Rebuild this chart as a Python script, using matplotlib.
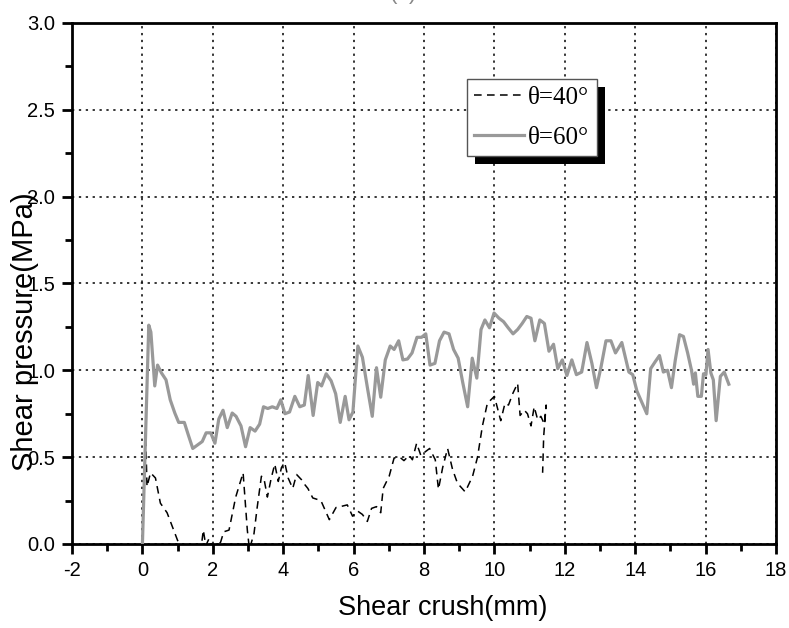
import numpy as np
import matplotlib
matplotlib.use("Agg")
import matplotlib.pyplot as plt
from matplotlib.ticker import MultipleLocator, FormatStrFormatter
from matplotlib.patches import Rectangle

plt.rcParams['font.family'] = ['Liberation Sans', 'DejaVu Sans']
plt.rcParams['axes.unicode_minus'] = False

# theta = 60 deg (grey solid)
x60 = [0.0, 0.18, 0.24, 0.35, 0.43, 0.54, 0.67, 0.79, 0.92, 1.03, 1.19, 1.30, 1.43,
       1.70, 1.81, 1.94, 2.06, 2.17, 2.29, 2.41, 2.55, 2.66, 2.80, 2.93, 3.06, 3.20,
       3.33, 3.44, 3.56, 3.69, 3.82, 3.93, 4.05, 4.18, 4.33, 4.47, 4.60, 4.71, 4.85,
       4.98, 5.09, 5.22, 5.36, 5.49, 5.62, 5.76, 5.87, 5.98, 6.12, 6.25, 6.40, 6.53,
       6.65, 6.77, 6.90, 7.04, 7.15, 7.28, 7.40, 7.53, 7.66, 7.80, 7.93, 8.05, 8.17,
       8.31, 8.44, 8.57, 8.71, 8.84, 8.97, 9.10, 9.24, 9.37, 9.50, 9.62, 9.73, 9.86,
       9.99, 10.13, 10.26, 10.39, 10.53, 10.66, 10.79, 10.92, 11.04, 11.15, 11.29,
       11.42, 11.55, 11.68, 11.80, 11.93, 12.06, 12.20, 12.33, 12.48, 12.63, 12.77,
       12.90, 13.03, 13.17, 13.31, 13.44, 13.62, 13.82, 13.93, 14.05, 14.20, 14.33,
       14.44, 14.57, 14.69, 14.80, 14.92, 15.03, 15.14, 15.26, 15.37, 15.49, 15.60,
       15.66, 15.71, 15.78, 15.88, 15.94, 16.01, 16.07, 16.15, 16.22, 16.30, 16.42,
       16.53, 16.66]
y60 = [0.0, 1.26, 1.22, 0.91, 1.03, 0.985, 0.945, 0.83, 0.754, 0.70, 0.70, 0.63, 0.55,
       0.59, 0.64, 0.64, 0.58, 0.72, 0.77, 0.67, 0.754, 0.735, 0.68, 0.56, 0.67, 0.65,
       0.69, 0.79, 0.78, 0.79, 0.78, 0.83, 0.75, 0.76, 0.85, 0.79, 0.80, 0.97, 0.74,
       0.93, 0.91, 0.98, 0.94, 0.865, 0.70, 0.85, 0.715, 0.76, 1.14, 1.075, 0.89, 0.735,
       1.015, 0.845, 1.06, 1.14, 1.12, 1.17, 1.06, 1.065, 1.10, 1.19, 1.19, 1.21, 1.03,
       1.04, 1.17, 1.22, 1.21, 1.12, 1.07, 0.93, 0.79, 1.07, 0.955, 1.235, 1.29, 1.245,
       1.33, 1.30, 1.28, 1.245, 1.21, 1.235, 1.27, 1.31, 1.30, 1.17, 1.29,
       1.27, 1.11, 1.15, 1.01, 1.06, 0.97, 1.06, 0.975, 0.99, 1.16, 1.04,
       0.90, 1.02, 1.17, 1.17, 1.10, 1.16, 0.99, 0.975, 0.88, 0.81, 0.75,
       1.01, 1.05, 1.085, 0.99, 1.00, 0.90, 1.06, 1.205, 1.195, 1.10, 1.00,
       0.92, 0.985, 0.85, 0.85, 0.98, 0.975, 1.12, 0.985, 0.945, 0.71, 0.965,
       0.99, 0.92]

# theta = 40 deg (black dashed)
x40 = [0.0, 0.09, 0.13, 0.23, 0.37, 0.51, 0.70, 1.00, 1.35, 1.65, 1.73, 1.80, 1.89,
       2.00, 2.12, 2.22, 2.31, 2.46, 2.65, 2.86, 2.98, 3.04, 3.17, 3.26, 3.38, 3.45,
       3.55, 3.66, 3.76, 3.86, 3.95, 4.04, 4.14, 4.27, 4.38, 4.52, 4.62, 4.70, 4.84,
       5.07, 5.31, 5.50, 5.62, 5.82, 5.97, 6.11, 6.25, 6.39, 6.51, 6.65, 6.77, 6.84,
       7.01, 7.15, 7.31, 7.43, 7.58, 7.67, 7.79, 7.91, 8.03, 8.16, 8.32, 8.41, 8.53,
       8.67, 8.81, 8.95, 9.17, 9.38, 9.52, 9.66, 9.80, 10.00, 10.18, 10.30, 10.40,
       10.53, 10.66, 10.73, 10.85, 10.94, 11.04, 11.13, 11.23, 11.32, 11.42, 11.47,
       11.40, 11.37]
y40 = [0.0, 0.64, 0.33, 0.41, 0.38, 0.235, 0.18, 0.02, -0.08, -0.05, 0.08, -0.01, 0.03,
       -0.02, -0.01, 0.01, 0.07, 0.08, 0.27, 0.41, 0.08, -0.03, 0.06, 0.21, 0.39, 0.38,
       0.27, 0.38, 0.46, 0.36, 0.44, 0.47, 0.38, 0.32, 0.40, 0.37, 0.34, 0.32, 0.265,
       0.25, 0.14, 0.21, 0.215, 0.225, 0.16, 0.19, 0.17, 0.13, 0.205, 0.215, 0.18, 0.32,
       0.39, 0.495, 0.50, 0.48, 0.51, 0.485, 0.58, 0.51, 0.53, 0.55, 0.485, 0.315, 0.44,
       0.55, 0.43, 0.35, 0.30, 0.39, 0.50, 0.68, 0.81, 0.85, 0.71, 0.81, 0.80,
       0.87, 0.925, 0.74, 0.77, 0.75, 0.68, 0.79, 0.715, 0.735, 0.69, 0.80,
       0.62, 0.41]

labels = ['θ=40°', 'θ=60°']

fig = plt.figure(figsize=(7.89, 6.28), dpi=100)
ax = fig.add_axes([0.0913, 0.1338, 0.8922, 0.8296])

ax.plot(x40, y40, color='black', lw=1.1, linestyle=(0, (5, 3.5)), label=labels[0], zorder=3)
ax.plot(x60, y60, color='#999999', lw=2.3, label=labels[1], zorder=3)

ax.set_xlim(-2, 18)
ax.set_ylim(0, 3.0)
ax.xaxis.set_major_locator(MultipleLocator(2))
ax.xaxis.set_minor_locator(MultipleLocator(1))
ax.yaxis.set_major_locator(MultipleLocator(0.5))
ax.yaxis.set_minor_locator(MultipleLocator(0.25))
ax.yaxis.set_major_formatter(FormatStrFormatter('%.1f'))

ax.grid(True, which='major', color='black', linestyle=(0, (1.5, 3)), lw=1.1)
ax.tick_params(which='major', direction='out', length=7, width=2, labelsize=14.5, pad=5)
ax.tick_params(which='minor', direction='out', length=5, width=2)
ax.tick_params(top=False, right=False, which='both')
for s in ax.spines.values():
    s.set_linewidth(2)

ax.set_xlabel('Shear crush(mm)', fontsize=19.5)
ax.set_ylabel('Shear pressure(MPa)', fontsize=21)
ax.xaxis.set_label_coords(0.527, -0.098)
ax.yaxis.set_label_coords(-0.047, 0.407)

leg = ax.legend(loc='upper left', bbox_to_anchor=(0.561, 0.8925), borderaxespad=0,
                fancybox=False, framealpha=1, edgecolor='#555555',
                prop={'family': 'Liberation Serif', 'size': 18},
                handlelength=2.0, handletextpad=0.15, borderpad=0.3, labelspacing=0.7)
leg.get_frame().set_linewidth(1)
leg.set_zorder(10)

fig.canvas.draw()
bb = leg.get_window_extent().transformed(ax.transAxes.inverted())
dx = 8 / (ax.bbox.width)
dy = 8 / (ax.bbox.height)
ax.add_patch(Rectangle((bb.x0 + dx, bb.y0 - dy), bb.width, bb.height,
                       transform=ax.transAxes, facecolor='black', edgecolor='none',
                       zorder=9, clip_on=False))

fig.text(403 / 789, 1 - 4 / 628, '(a)', ha='center', va='bottom', fontsize=16, color='#888888')

fig.savefig('out.png', dpi=100)
